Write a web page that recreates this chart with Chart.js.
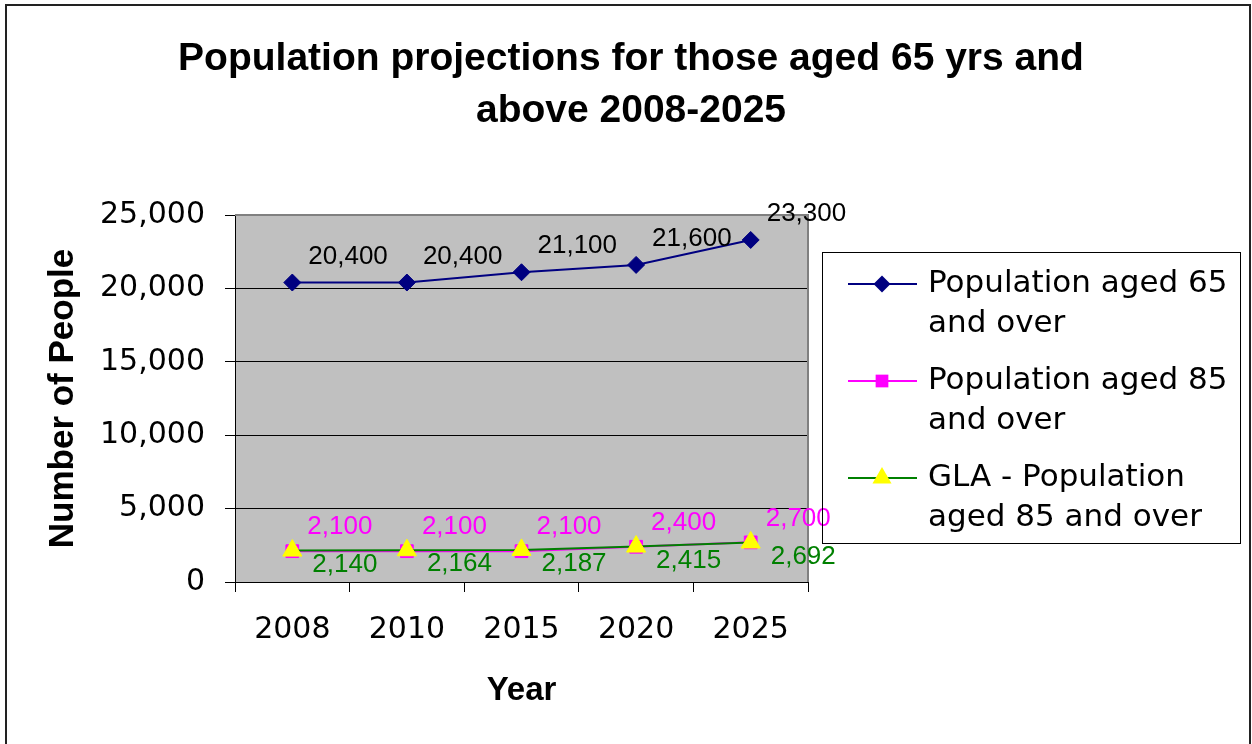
<!DOCTYPE html>
<html>
<head>
<meta charset="utf-8">
<script src="https://cdn.jsdelivr.net/npm/chart.js@4.4.0/dist/chart.umd.min.js"></script>
<style>
  html, body { margin: 0; padding: 0; background: #fff; }
  #wrap { width: 1252px; height: 744px; position: relative; }
</style>
</head>
<body>
<div id="wrap"><canvas id="chart" width="1252" height="744"></canvas></div>
<script>
// data
const years = ['2008', '2010', '2015', '2020', '2025'];
const aged65 = [20400, 20400, 21100, 21600, 23300];
const aged85 = [2100, 2100, 2100, 2400, 2700];
const glaAged85 = [2140, 2164, 2187, 2415, 2692];
const yTicks = [0, 5000, 10000, 15000, 20000, 25000];
const seriesNames = ['Population aged 65 and over', 'Population aged 85 and over', 'GLA - Population aged 85 and over'];
const titleLines = ['Population projections for those aged 65 yrs and', 'above 2008-2025'];

const fmt = v => v.toLocaleString('en-US');

// label colours and offsets per series
const labelStyle = [
  { color: '#000000', dx: 16, dy: -26 },
  { color: '#FF00FF', dx: 15, dy: -24 },
  { color: '#008000', dx: 20, dy: 14 }
];

function drawMarker(ctx, style, x, y, r, fill) {
  ctx.save();
  ctx.fillStyle = fill;
  ctx.beginPath();
  if (style === 'rectRot') {
    ctx.moveTo(x - r, y); ctx.lineTo(x, y - r); ctx.lineTo(x + r, y); ctx.lineTo(x, y + r);
  } else if (style === 'rect') {
    const s = r * Math.SQRT1_2;
    ctx.rect(x - s, y - s, 2 * s, 2 * s);
  } else {
    const a = Math.PI * 2 / 3;
    ctx.moveTo(x, y - r);
    ctx.lineTo(x + Math.sin(a) * r, y - Math.cos(a) * r);
    ctx.lineTo(x + Math.sin(2 * a) * r, y - Math.cos(2 * a) * r);
  }
  ctx.closePath();
  ctx.fill();
  ctx.restore();
}

const framePlugin = {
  id: 'frame',
  beforeDraw(chart) {
    const { ctx, chartArea: a } = chart;
    ctx.save();
    ctx.fillStyle = '#fff';
    ctx.fillRect(0, 0, chart.width, chart.height);
    ctx.strokeStyle = '#222';
    ctx.lineWidth = 2;
    ctx.strokeRect(6, 5, 1244, 800);
    ctx.fillStyle = '#C0C0C0';
    ctx.fillRect(a.left, a.top, a.right - a.left, a.bottom - a.top);
    ctx.restore();
  },
  beforeDatasetsDraw(chart) {
    const { ctx, chartArea: a } = chart;
    ctx.save();
    ctx.strokeStyle = '#808080';
    ctx.lineWidth = 2;
    ctx.beginPath();
    ctx.moveTo(a.left, a.top);
    ctx.lineTo(a.right, a.top);
    ctx.lineTo(a.right, a.bottom);
    ctx.stroke();
    ctx.restore();
  },
  afterDatasetsDraw(chart) {
    const ctx = chart.ctx;
    ctx.save();
    ctx.font = '26px "Liberation Sans", Arial, sans-serif';
    ctx.textAlign = 'left';
    ctx.textBaseline = 'middle';
    chart.data.datasets.forEach((ds, i) => {
      const st = labelStyle[i];
      ctx.fillStyle = st.color;
      chart.getDatasetMeta(i).data.forEach((pt, j) => {
        ctx.fillText(fmt(ds.data[j]), pt.x + st.dx, pt.y + st.dy);
      });
    });
    ctx.restore();
  },
  afterDraw(chart) {
    const ctx = chart.ctx;
    ctx.save();
    // title
    ctx.fillStyle = '#000';
    ctx.font = 'bold 39px "Liberation Sans", Arial, sans-serif';
    ctx.textAlign = 'center';
    ctx.textBaseline = 'middle';
    titleLines.forEach((t, i) => ctx.fillText(t, 631, 59 + i * 52));

    // legend
    const lx = 822, ly = 252, lw = 418, lh = 291;
    ctx.strokeStyle = '#000';
    ctx.lineWidth = 1;
    ctx.strokeRect(lx + 0.5, ly + 0.5, lw, lh);
    ctx.font = '31px "DejaVu Sans", sans-serif';
    ctx.textAlign = 'left';
    chart.data.datasets.forEach((ds, i) => {
      const y0 = ly + 32 + i * 97;
      ctx.strokeStyle = ds.borderColor;
      ctx.lineWidth = 2;
      ctx.beginPath();
      ctx.moveTo(lx + 26, y0);
      ctx.lineTo(lx + 95, y0);
      ctx.stroke();
      drawMarker(ctx, ds.pointStyle, lx + 60, y0, ds.pointRadius, ds.pointBackgroundColor);
      // wrap the name into lines
      const words = ds.label.split(' ');
      const lines = [];
      let cur = '';
      words.forEach(w => {
        const test = cur ? cur + ' ' + w : w;
        if (ctx.measureText(test).width > 310 && cur) { lines.push(cur); cur = w; } else { cur = test; }
      });
      lines.push(cur);
      ctx.fillStyle = '#000';
      lines.forEach((l, k) => ctx.fillText(l, lx + 106, y0 + k * 40));
    });
    ctx.restore();
  }
};

const tickFont = { family: '"DejaVu Sans", sans-serif', size: 30 };
const titleFont = { family: '"Liberation Sans", Arial, sans-serif', size: 35, weight: 'bold' };

new Chart(document.getElementById('chart'), {
  type: 'line',
  data: {
    labels: years,
    datasets: [
      {
        label: seriesNames[0], data: aged65, order: 2,
        borderColor: '#000080', borderWidth: 2,
        pointStyle: 'rectRot', pointRadius: 8.5,
        pointBackgroundColor: '#000080', pointBorderColor: '#000080', pointBorderWidth: 1
      },
      {
        label: seriesNames[1], data: aged85, order: 1,
        borderColor: '#FF00FF', borderWidth: 2,
        pointStyle: 'rect', pointRadius: 9,
        pointBackgroundColor: '#FF00FF', pointBorderColor: '#FF00FF', pointBorderWidth: 1
      },
      {
        label: seriesNames[2], data: glaAged85, order: 0,
        borderColor: '#008000', borderWidth: 2,
        pointStyle: 'triangle', pointRadius: 11,
        pointBackgroundColor: '#FFFF00', pointBorderColor: '#FFFF00', pointBorderWidth: 1
      }
    ]
  },
  options: {
    responsive: false,
    animation: false,
    devicePixelRatio: 1,
    events: [],
    layout: { padding: { left: 10, right: 444, top: 215, bottom: 10 } },
    plugins: {
      legend: { display: false },
      title: { display: false },
      tooltip: { enabled: false }
    },
    scales: {
      x: {
        offset: true,
        grid: { offset: true, drawOnChartArea: false, tickLength: 10, color: '#000' },
        border: { color: '#000', width: 1 },
        ticks: { font: tickFont, color: '#000', padding: 20, maxRotation: 0 },
        title: { display: true, text: 'Year', font: { ...titleFont, size: 33 }, color: '#000', padding: { bottom: 23 } },
        afterFit: s => { s.height = 152; }
      },
      y: {
        min: 0, max: 25000,
        afterBuildTicks: s => { s.ticks = yTicks.map(v => ({ value: v })); },
        grid: { color: '#000', lineWidth: 1, tickLength: 10, tickColor: '#000' },
        border: { color: '#000', width: 1 },
        ticks: { font: tickFont, color: '#000', padding: 20, callback: v => fmt(v) },
        title: { display: true, text: 'Number of People', font: titleFont, color: '#000', padding: { top: 32 } },
        afterFit: s => { s.width = 225; }
      }
    }
  },
  plugins: [framePlugin]
});
</script>
</body>
</html>
